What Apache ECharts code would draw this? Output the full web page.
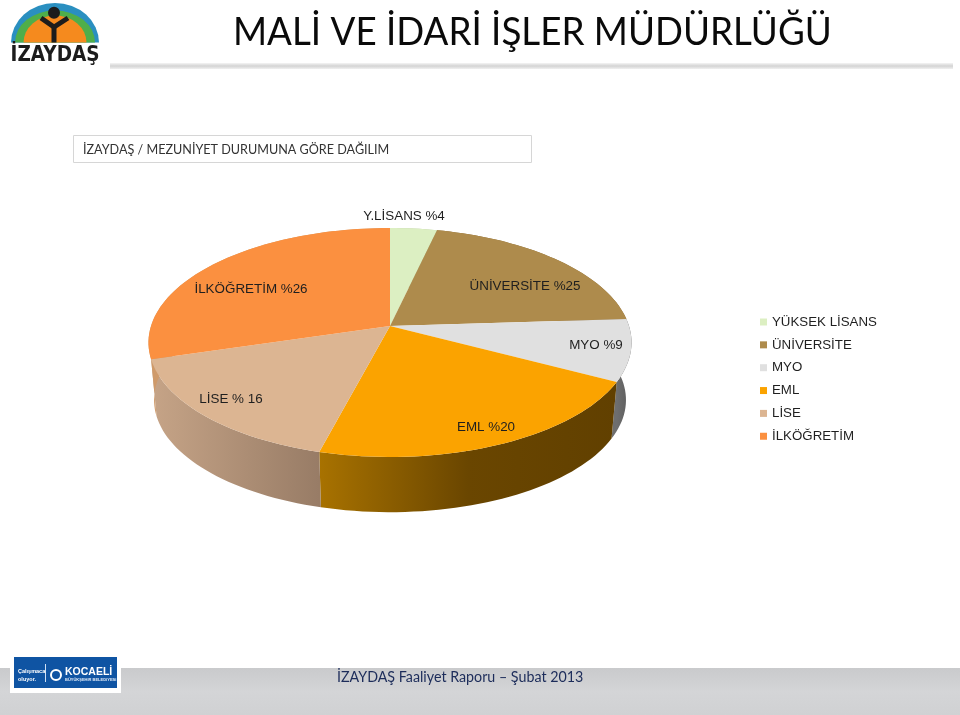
<!DOCTYPE html>
<html><head><meta charset="utf-8">
<style>html,body{margin:0;padding:0;background:#fff}#c{width:960px;height:715px}</style>
<script src="https://cdn.jsdelivr.net/npm/echarts@6/dist/echarts.min.js"></script>
</head><body><div id="c"></div>
<script>
// Data: education groups, slice shares as drawn in the picture (in percent), printed labels
const categories = ['YÜKSEK LİSANS','ÜNİVERSİTE','MYO','EML','LİSE','İLKÖĞRETİM'];
const drawnShares = [3.6,20.4,8.7,21.4,16.3,29.6];
const sliceLabels = ['Y.LİSANS %4','ÜNİVERSİTE %25','MYO %9','EML %20','LİSE % 16','İLKÖĞRETİM %26'];
const sliceColors = ['#dcefc2','#ae8b4c','#e0e0e0','#fba300','#dcb592','#fb9040'];
const wallColors = [
  ['#b9c9a0','#b9c9a0'],
  ['#8a6c38','#8a6c38'],
  ['#6e6e6e','#5a5a5a'],
  ['#a87200','#6a4600','#614000'],
  ['#c6a487','#987c66'],
  ['#cf9a6a','#cf9a6a']
];

// Perspective of the pie disc
const P = {cx:390, cy:326, A:239, B:112.1, k:0.144, ex:390.5, ey:342.5, wy:400, ws:0.977, wsy:0.98};
function rim(pct){
  const t = pct/100*Math.PI*2, u = Math.sin(t), v = -Math.cos(t), s = 1/(1-P.k*v);
  return [P.cx+P.A*u*s, P.cy+P.B*v*s];
}
function low(p){ return [P.ex+P.ws*(p[0]-P.ex), P.wy+P.wsy*(p[1]-P.ey)]; }
function arc(a,b){
  const n = Math.max(4,Math.ceil((b-a)*2)), o = [];
  for(let i=0;i<=n;i++) o.push(rim(a+(b-a)*i/n));
  return o;
}
let acc = 0;
const spans = drawnShares.map(v=>{const s=[acc,acc+v];acc+=v;return s;});

const renderWall = (params,api)=>{
  const i = api.value(2), top = arc(api.value(0),api.value(1));
  const bottom = top.map(low).reverse();
  const xs = top.map(p=>p[0]), x0 = Math.min(...xs), x1 = Math.max(...xs);
  const st = wallColors[i].map((c,j,a)=>({offset:j/(a.length-1),color:c}));
  return {type:'polygon',shape:{points:top.concat(bottom)},
    style:{fill:new echarts.graphic.LinearGradient(x0,0,x1,0,st,true)}};
};
const renderFace = (params,api)=>({
  type:'polygon',
  shape:{points:[[P.cx,P.cy]].concat(arc(api.value(0),api.value(1)))},
  style:{fill:api.visual('color')}
});

const series = [{type:'custom',name:'wall',coordinateSystem:'none',silent:true,z:1,renderItem:renderWall,
  data:spans.map((s,i)=>[s[0],s[1],i])}];
categories.forEach((c,i)=>series.push({type:'custom',name:c,coordinateSystem:'none',silent:true,z:2,
  renderItem:renderFace,itemStyle:{color:sliceColors[i]},data:[[spans[i][0],spans[i][1]]]}));

const labelAt = [[404,216.5],[525,286.5],[596,345.5],[486,427.5],[231,399.5],[251,289.5]];
const arial = '"Liberation Sans",Arial,sans-serif', cal = 'Lato,"Open Sans",sans-serif';
const txt = (s,x,y,font,fill,align,sx)=>({type:'text',x,y,scaleX:sx||1,z:20,style:{text:s,font,fill,align:align||'left',verticalAlign:'middle'}});
const halfEll = (cx,cy,rx,ry,fill)=>({type:'sector',x:cx,y:cy,scaleY:ry/rx,z:10,
  shape:{cx:0,cy:0,r:rx,startAngle:Math.PI,endAngle:Math.PI*2},style:{fill}});

const graphics = [
  // footer band
  {type:'rect',z:5,shape:{x:0,y:668,width:960,height:47},
    style:{fill:new echarts.graphic.LinearGradient(0,0,0,1,[{offset:0,color:'#c9cacc'},{offset:.5,color:'#d4d5d7'},{offset:1,color:'#d0d1d3'}])}},
  txt('İZAYDAŞ Faaliyet Raporu – Şubat 2013',337,677,'15.5px '+cal,'#1c2c5a','left',0.92),
  // footer logo
  {type:'rect',z:6,shape:{x:10,y:655,width:111,height:38},style:{fill:'#fff'}},
  {type:'rect',z:7,shape:{x:14,y:657,width:103,height:31},style:{fill:'#0f54a3'}},
  txt('Çalışmaca',18,671,'bold 5.5px '+arial,'#fff'),
  txt('oluyor.',18,679,'bold 5.5px '+arial,'#fff'),
  {type:'line',z:8,shape:{x1:45.5,y1:664,x2:45.5,y2:682},style:{stroke:'#cfe0f5',lineWidth:1}},
  {type:'circle',z:8,shape:{cx:56,cy:675,r:5},style:{fill:'none',stroke:'#fff',lineWidth:2}},
  txt('KOCAELİ',65,672,'900 10.5px '+arial,'#fff','left',1.0),
  txt('BÜYÜKŞEHİR BELEDİYESİ',65,679.5,'bold 4px '+arial,'#dfeaf8'),
  // header
  {type:'rect',z:5,shape:{x:110,y:63,width:843,height:6},
    style:{fill:new echarts.graphic.LinearGradient(0,0,0,1,[{offset:0,color:'#f4f4f4'},{offset:.5,color:'#d4d4d4'},{offset:1,color:'#f0f0f0'}])}},
  txt('MALİ VE İDARİ İŞLER MÜDÜRLÜĞÜ',233,32,'39px '+cal,'#0a0a0a','left',0.942),
  {type:'rect',z:5,shape:{x:73.5,y:135.5,width:458,height:27},style:{fill:'#fff',stroke:'#d6d6d6',lineWidth:1}},
  txt('İZAYDAŞ / MEZUNİYET DURUMUNA GÖRE DAĞILIM',83,149,'14px '+cal,'#333','left',0.9),
  // logo
  halfEll(55,42.5,44,39.5,'#2a8fc0'),
  halfEll(55,42.5,40,32,'#4fae4a'),
  halfEll(55,42.5,31.5,27,'#f58a1e'),
  {type:'circle',z:11,shape:{cx:54,cy:12.7,r:6},style:{fill:'#1c1c1c'}},
  {type:'polyline',z:11,shape:{points:[[41,18],[54,27],[68,18]]},style:{fill:'none',stroke:'#1c1c1c',lineWidth:5}},
  {type:'rect',z:11,shape:{x:51.5,y:26,width:5,height:16.5},style:{fill:'#1c1c1c'}},
  txt('İZAYDAŞ',10.5,56,'900 21px "DejaVu Sans",'+arial,'#1c1c1c','left',0.88)
];
sliceLabels.forEach((s,i)=>graphics.push(txt(s,labelAt[i][0],labelAt[i][1],'13.4px '+arial,'#1f1f1f','center')));

const chart = echarts.init(document.getElementById('c'),null,{renderer:'canvas'});
chart.setOption({
  animation:false,backgroundColor:'#fff',
  legend:{orient:'vertical',left:760,top:315,data:categories,icon:'rect',itemWidth:7,itemHeight:7,itemGap:8.85,
    padding:0,selectedMode:false,textStyle:{fontFamily:arial,fontSize:13.3,color:'#1f1f1f',lineHeight:14}},
  graphic:graphics,
  series
});
</script></body></html>
